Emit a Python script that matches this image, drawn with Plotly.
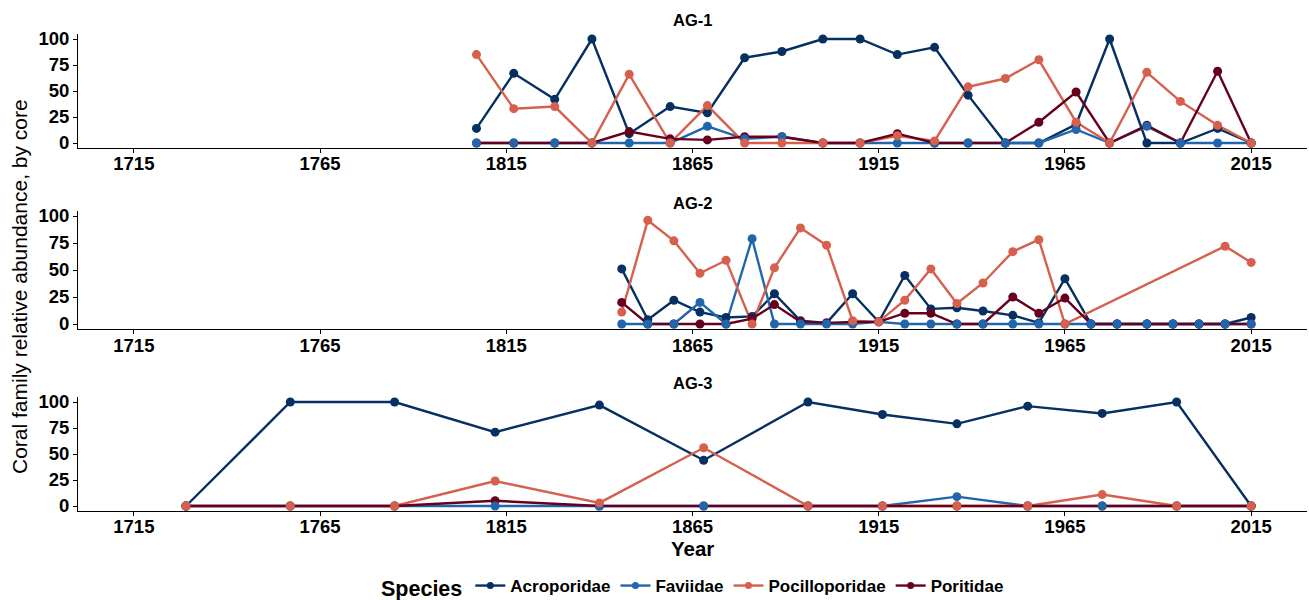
import plotly.graph_objects as go

# ---------------- data ----------------
species = ["Acroporidae", "Faviidae", "Pocilloporidae", "Poritidae"]
colors = ["#053061", "#2166AC", "#D6604D", "#67001F"]

ag1_years = [1807, 1817, 1828, 1838, 1848, 1859, 1869, 1879, 1889, 1900, 1910,
             1920, 1930, 1939, 1949, 1958, 1968, 1977, 1987, 1996, 2006, 2015]
ag1_acro = [14, 67, 42, 100, 9, 35, 29, 82, 88, 100, 100, 85, 92, 46, 0, 0, 18, 100, 0, 0, 14, 0]
ag1_favi = [0, 0, 0, 0, 0, 0, 16, 4, 6, 0, 0, 0, 0, 0, 0, 0, 13, 0, 16, 0, 0, 0]
ag1_poci = [85, 33, 35, 0, 66, 0, 36, 0, 0, 0, 0, 7, 2, 54, 62, 80, 20, 0, 68, 40, 17, 0]
ag1_pori = [0, 0, 0, 0, 11, 4, 3, 6, 6, 0, 0, 9, 0, 0, 0, 20, 49, 0, 17, 0, 69, 0]

ag2_years = [1846, 1853, 1860, 1867, 1874, 1881, 1887, 1894, 1901, 1908, 1915, 1922, 1929,
             1936, 1943, 1951, 1958, 1965, 1972, 1979, 1987, 1994, 2001, 2008, 2015]
ag2_acro = [51, 4, 22, 11, 6, 7, 28, 3, 1, 28, 2, 45, 14, 15, 12, 8, 1, 42, 0, 0, 0, 0, 0, 0, 6]
ag2_favi = [0, 0, 0, 20, 0, 79, 0, 0, 0, 0, 2, 0, 0, 0, 0, 0, 0, 0, 0, 0, 0, 0, 0, 0, 0]
ag2_poci = [11, 96, 77, 47, 59, 0, 52, 89, 73, 3, 2, 22, 51, 19, 38, 67, 78, 0,
            None, None, None, None, None, 72, 57]
ag2_pori = [20, 0, 0, 0, 0, 5, 18, 2, 1, 2, 2, 10, 10, 0, 0, 25, 10, 24, 0, 0, 0, 0, 0, 0, 0]

ag3_years = [1729, 1757, 1785, 1812, 1840, 1868, 1896, 1916, 1936, 1955, 1975, 1995, 2015]
ag3_acro = [0, 100, 100, 71, 97, 44, 100, 88, 79, 96, 89, 100, 0]
ag3_favi = [0, 0, 0, 0, 0, 0, 0, 0, 9, 0, 0, 0, 0]
ag3_poci = [0, 0, 0, 24, 3, 56, 0, 0, 0, 0, 11, 0, 0]
ag3_pori = [0, 0, 0, 5, 0, 0, 0, 0, 0, 0, 0, 0, 0]

cores = ["AG-1", "AG-2", "AG-3"]
x_ticks = [1715, 1765, 1815, 1865, 1915, 1965, 2015]
y_ticks = [0, 25, 50, 75, 100]

core_data = [
    (ag1_years, [ag1_acro, ag1_favi, ag1_poci, ag1_pori]),
    (ag2_years, [ag2_acro, ag2_favi, ag2_poci, ag2_pori]),
    (ag3_years, [ag3_acro, ag3_favi, ag3_poci, ag3_pori]),
]

# ---------------- figure ----------------
W, H = 1309, 600
FONT = "Liberation Sans, Arial, sans-serif"
fig = go.Figure()

line_order = [0, 1, 2, 3]
marker_order = [0, 3, 1, 2]

for ci, (years, series) in enumerate(core_data):
    xa = "x" if ci == 0 else f"x{ci+1}"
    ya = "y" if ci == 0 else f"y{ci+1}"
    for si in line_order:
        vals = series[si]
        xs = [y for y, v in zip(years, vals) if v is not None]
        vs = [v for v in vals if v is not None]
        fig.add_trace(go.Scatter(x=xs, y=vs, mode="lines", xaxis=xa, yaxis=ya,
                                 line=dict(color=colors[si], width=2.4),
                                 showlegend=False, hoverinfo="skip"))
    for si in marker_order:
        vals = series[si]
        xs = [y for y, v in zip(years, vals) if v is not None]
        vs = [v for v in vals if v is not None]
        fig.add_trace(go.Scatter(x=xs, y=vs, mode="markers", xaxis=xa, yaxis=ya,
                                 marker=dict(color=colors[si], size=9),
                                 name=species[si], showlegend=False))

# legend-only traces
for si, sp in enumerate(species):
    fig.add_trace(go.Scatter(x=[None], y=[None], mode="lines+markers", name=sp,
                             line=dict(color=colors[si], width=2.4),
                             marker=dict(color=colors[si], size=7)))

def ydom(top_px, bot_px):
    return [1 - bot_px / H, 1 - top_px / H]

panel_px = [(33.8, 148.2), (210.6, 329.4), (396.8, 511.2)]
xdom = [78 / W, 1307 / W]

axis_common = dict(showline=True, linecolor="black", linewidth=1.1, ticks="outside",
                   ticklen=4, tickwidth=1, tickcolor="black", showgrid=False, zeroline=False,
                   automargin=False,
                   tickfont=dict(family=FONT, size=18.5, color="black", weight="bold"))

layout_axes = {}
for ci in range(3):
    xk = "xaxis" if ci == 0 else f"xaxis{ci+1}"
    yk = "yaxis" if ci == 0 else f"yaxis{ci+1}"
    ya = "y" if ci == 0 else f"y{ci+1}"
    xa = "x" if ci == 0 else f"x{ci+1}"
    layout_axes[xk] = dict(domain=xdom, range=[1700, 2030], tickvals=x_ticks,
                           anchor=ya, ticklabelstandoff=-5, **axis_common)
    layout_axes[yk] = dict(domain=ydom(*panel_px[ci]), range=[-5, 105], tickvals=y_ticks,
                           anchor=xa, **axis_common)

annotations = []
title_y = [20, 203, 383]
for ci, core in enumerate(cores):
    annotations.append(dict(text=f"<b>{core}</b>", x=(78 + 1307) / 2 / W, y=1 - title_y[ci] / H,
                            xref="paper", yref="paper", showarrow=False,
                            xanchor="center", yanchor="middle",
                            font=dict(family=FONT, size=16.5, color="black")))
annotations.append(dict(text="Coral family relative abundance, by core", x=20 / W, y=1 - 287 / H,
                        xref="paper", yref="paper", showarrow=False, textangle=-90,
                        xanchor="center", yanchor="middle",
                        font=dict(family=FONT, size=21, color="black")))
annotations.append(dict(text="<b>Year</b>", x=(78 + 1307) / 2 / W, y=1 - 548 / H,
                        xref="paper", yref="paper", showarrow=False,
                        xanchor="center", yanchor="middle",
                        font=dict(family=FONT, size=20.5, color="black")))

fig.update_layout(
    width=W, height=H,
    margin=dict(l=0, r=0, t=0, b=0, autoexpand=False),
    plot_bgcolor="white", paper_bgcolor="white",
    font=dict(family=FONT, color="black"),
    annotations=annotations,
    legend=dict(orientation="h", x=694 / W, xanchor="center", y=1 - 587 / H, yanchor="middle",
                title=dict(text="<b>Species</b>", font=dict(family=FONT, size=21.5, color="black")),
                font=dict(family=FONT, size=17, color="black", weight="bold"),
                itemwidth=30, bgcolor="rgba(0,0,0,0)"),
    showlegend=True,
    **layout_axes,
)

fig.write_html("out.html", config={"displayModeBar": False},
               post_script="document.body.style.margin='0';document.body.style.overflow='hidden';")
